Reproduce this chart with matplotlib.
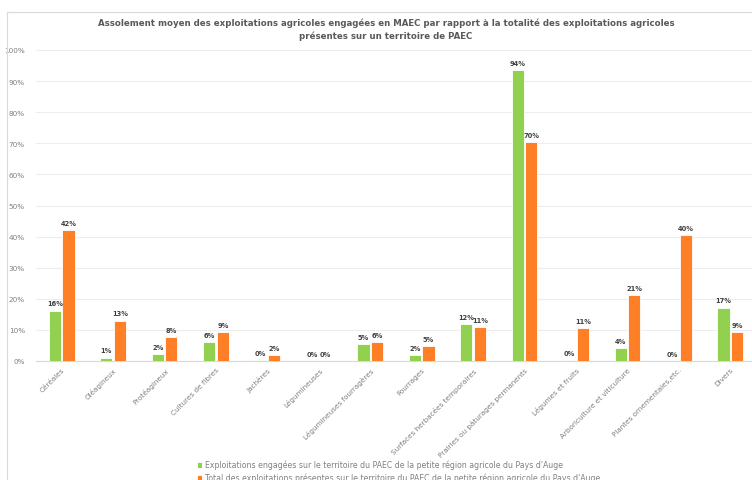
import matplotlib
matplotlib.use("Agg")
import matplotlib.pyplot as plt
from matplotlib.patches import Rectangle
import numpy as np

categories = ["Céréales", "Oléagineux", "Protéagineux", "Cultures de fibres", "Jachères",
              "Légumineuses", "Légumineuses fourragères", "Fourrages",
              "Surfaces herbacées temporaires", "Prairies ou pâturages permanents",
              "Légumes et fruits", "Arboriculture et viticulture",
              "Plantes ornementales,etc.", "Divers"]
engages = [16.2, 1.1, 2.3, 6.2, 0.4, 0.0, 5.4, 1.8, 12.0, 93.6, 0.3, 4.2, 0.0, 17.2]
total = [42.1, 13.0, 7.8, 9.3, 1.9, 0.0, 6.2, 4.8, 11.0, 70.3, 10.6, 21.2, 40.4, 9.2]
series_names = ["Exploitations engagées sur le territoire du PAEC de la petite région agricole du Pays d'Auge",
                "Total des exploitations présentes sur le territoire du PAEC de la petite région agricole du Pays d'Auge"]
title = ("Assolement moyen des exploitations agricoles engagées en MAEC par rapport à la totalité des exploitations agricoles\n"
         "présentes sur un territoire de PAEC")

GREEN = "#92D050"
ORANGE = "#FF7F27"
GRAY = "#595959"
LGRAY = "#808080"

plt.rcParams['font.family'] = ['DejaVu Sans']

fig = plt.figure(figsize=(7.52, 4.81), dpi=100)
W, H = 752, 481
# outer chart frame
fig.patches.append(Rectangle((7 / W, -0.1), 1.2, 1 - 13 / H + 0.1, transform=fig.transFigure,
                             fill=False, edgecolor="#D9D9D9", linewidth=0.8))

ax = fig.add_axes([36 / W, 1 - 362 / H, 720 / W, (362 - 51) / H])
x = np.arange(len(categories))
bw = 0.235
gap = 0.03
b1 = ax.bar(x - bw / 2 - gap / 2, engages, bw, color=GREEN, edgecolor="white", linewidth=0.6,
            label=series_names[0], zorder=3)
b2 = ax.bar(x + bw / 2 + gap / 2, total, bw, color=ORANGE, edgecolor="white", linewidth=0.6,
            label=series_names[1], zorder=3)

for bars, vals in ((b1, engages), (b2, total)):
    for rect, v in zip(bars, vals):
        ax.annotate(f"{v:.0f}%", (rect.get_x() + rect.get_width() / 2, v),
                    xytext=(0, 3), textcoords="offset points", ha="center", va="bottom",
                    fontsize=4.8, fontweight="bold", color="#404040")

ax.set_xlim(-0.5, len(categories) - 0.5)
ax.set_ylim(0, 100)
ax.set_yticks(np.arange(0, 101, 10))
ax.set_yticklabels([f"{t}%" for t in range(0, 101, 10)], fontsize=5.2, color=LGRAY)
ax.set_xticks(x)
ax.set_xticklabels(categories, rotation=45, ha="right", rotation_mode="anchor",
                   fontsize=5.2, color=LGRAY)
ax.tick_params(axis="both", length=0, pad=4)
ax.tick_params(axis="y", pad=8)
ax.grid(axis="y", color="#EDEDED", linewidth=0.8, zorder=0)
for s in ["top", "right", "left"]:
    ax.spines[s].set_visible(False)
ax.spines["bottom"].set_color("#D9D9D9")
ax.spines["bottom"].set_linewidth(0.8)
ax.set_axisbelow(True)

fig.text(386 / W, 1 - 30 / H, title, ha="center", va="center", fontsize=6.25, fontweight="bold",
         color=GRAY, linespacing=1.5)

fig.legend(handles=[b1, b2], labels=series_names, loc="upper left",
           bbox_to_anchor=(197 / W, 1 - 461 / H), frameon=False, fontsize=5.6,
           labelcolor=LGRAY, handlelength=0.7, handleheight=0.7, handletextpad=0.3,
           labelspacing=0.45, borderaxespad=0, borderpad=0)

fig.savefig("out.png", dpi=100)
